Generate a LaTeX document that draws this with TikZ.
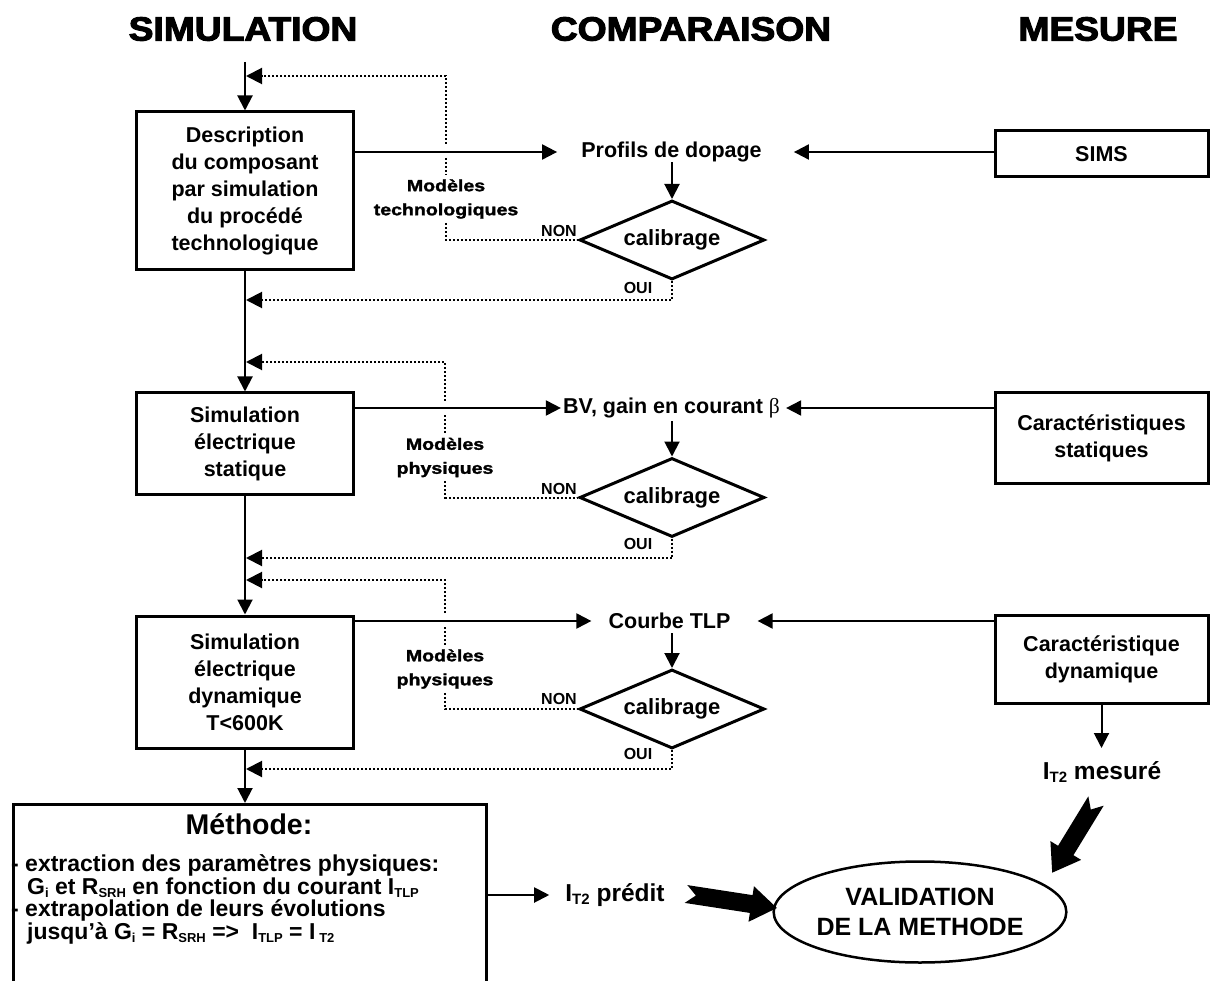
\documentclass[tikz,border=0pt]{standalone}
\usepackage{graphicx}
\usepackage{fontspec}
\setmainfont{Liberation Sans}
\newfontfamily\heavy{Liberation Sans}[BoldFeatures={FakeBold=1.5}]
\newfontfamily\heavyh{Liberation Sans}[BoldFeatures={FakeBold=3}]
\newfontfamily\serifgr{Liberation Serif}
\usetikzlibrary{arrows.meta,shapes.geometric,calc}
\newcommand\wide[1]{\scalebox{1.2}[1]{#1}}
\newcommand\hwide[1]{\scalebox{1.11}[1]{#1}}
\newcommand\subsc[2][13]{\raisebox{-3pt}{\fontsize{#1}{#1}\selectfont #2}}
\newcommand\fatarrow[3]{%
  \pgfmathanglebetweenpoints{\pgfpointanchor{#1}{center}}{\pgfpointanchor{#2}{center}}%
  \let\fatang\pgfmathresult
  \fill[shift={(#1)}, rotate=\fatang] (0,-9) -- ({#3-26},-9) -- ({#3-26},-18) -- (#3,0)
     -- ({#3-26},18) -- ({#3-26},9) -- (0,9) -- (10,0) -- cycle;}
\begin{document}
\begin{tikzpicture}[x=1pt,y=-1pt,
  every node/.style={font=\bfseries\fontsize{21.5}{27}\selectfont, inner sep=0pt},
  hd/.style={font=\heavyh\bfseries\fontsize{33.5}{40}\selectfont},
  box/.style={draw, line width=3pt, align=center, minimum width=217pt},
  rbox/.style={draw, line width=3pt, align=center, minimum width=213pt},
  dia/.style={draw, diamond, aspect=2.4, line width=3pt, minimum width=185pt, minimum height=79pt,
              font=\bfseries\fontsize{22}{26}\selectfont},
  modl/.style={align=center, inner sep=4pt, font=\heavy\bfseries\fontsize{16.3}{24}\selectfont},
  yn/.style={font=\bfseries\fontsize{16}{18}\selectfont},
  conn/.style={line width=2pt, -{Triangle[length=15pt,width=15pt]}},
  dotl/.style={line width=2pt, dash pattern=on 2pt off 2pt},
  doto/.style={dotl, -{Triangle[length=16pt,width=16pt]}},
  big/.style={font=\bfseries\fontsize{24.5}{30}\selectfont}]
\useasboundingbox (0,0) rectangle (1210,981);

% headings
\node[hd] (h1) at (243,29) {\hwide{SIMULATION}};
\node[hd] (h2) at (691,29) {\hwide{COMPARAISON}};
\node[hd] (h3) at (1098,29) {\hwide{MESURE}};

% simulation boxes
\node[box, minimum height=158pt] (b1) at (245,191) {Description\\du composant\\par simulation\\du procédé\\technologique};
\node[box, minimum height=101pt] (b2) at (245,443.5) {Simulation\\électrique\\statique};
\node[box, minimum height=132pt] (b3) at (245,682) {Simulation\\électrique\\dynamique\\T<600K};
\node[draw, line width=3pt, anchor=north west, minimum width=473pt, minimum height=200pt] (m) at (12,803) {};

% measurement boxes
\node[rbox, minimum height=46pt] (r1) at (1101.5,154) {SIMS};
\node[rbox, minimum height=90pt] (r2) at (1101.5,438) {Caractéristiques\\statiques};
\node[rbox, minimum height=88pt] (r3) at (1101.5,659) {Caractéristique\\dynamique};

% comparison texts
\node (c1) at (671.5,152) {Profils de dopage};
\node (c2) at (671.5,408) {BV, gain en courant {\serifgr\mdseries β}};
\node (c3) at (669.5,621) {Courbe TLP};

% diamonds
\node[dia] (d1) at (672,240) {calibrage};
\node[dia] (d2) at (672,497.5) {calibrage};
\node[dia] (d3) at (672,709) {calibrage};

% model labels
\node[modl] (m1) at (446,199) {\wide{Modèles}\\\wide{technologiques}};
\node[modl] (m2) at (445,457.5) {\wide{Modèles}\\\wide{physiques}};
\node[modl] (m3) at (445,669) {\wide{Modèles}\\\wide{physiques}};

% NON / OUI
\node[yn] (n1) at (559,231) {NON};
\node[yn] (n2) at (559,489) {NON};
\node[yn] (n3) at (559,699) {NON};
\node[yn] (o1l) at (638,288) {OUI};
\node[yn] (o2l) at (638,544) {OUI};
\node[yn] (o3l) at (638,754) {OUI};

% main vertical flow
\coordinate (top) at (245,62);
\draw[conn] (top) -- (b1.north);
\draw[conn] (b1.south) -- (b2.north);
\draw[conn] (b2.south) -- (b3.north);
\draw[conn] (b3.south) -- (b3.south |- m.north);

% horizontal arrows to comparison
\draw[conn] (b1.east |- c1) -- ([xshift=-24pt]c1.west);
\draw[conn] (b2.east |- c2) -- ([xshift=-2pt]c2.west);
\draw[conn] (b3.east |- c3) -- ([xshift=-17pt]c3.west);
\draw[conn] (r1.west |- c1) -- ([xshift=32pt]c1.east);
\draw[conn] (r2.west |- c2) -- ([xshift=6pt]c2.east);
\draw[conn] (r3.west |- c3) -- ([xshift=27pt]c3.east);

% comparison to calibrage
\draw[conn] (d1.north |- c1.south) -- (d1.north);
\draw[conn] ([yshift=-3pt]d2.north |- c2.south) -- (d2.north);
\draw[conn] ([yshift=-4pt]d3.north |- c3.south) -- (d3.north);

% dotted feedback loops
\coordinate (e1) at (246,76);   \coordinate (o1) at (246,300);
\coordinate (e2) at (246,362);  \coordinate (o2) at (246,558);
\coordinate (e3) at (246,580);  \coordinate (o3) at (246,769);
\coordinate (ga1) at (446,144); \coordinate (gb1) at (446,158);
\coordinate (ga2) at (445,401); \coordinate (gb2) at (445,415);
\coordinate (ga3) at (445,613); \coordinate (gb3) at (445,627);

\draw[doto] (ga1) |- (e1);
\draw[dotl] (gb1) -- (m1.north);
\draw[dotl] (m1.south) |- (d1.west);
\draw[doto] (d1.south) |- (o1);

\draw[doto] (ga2) |- (e2);
\draw[dotl] (gb2) -- (m2.north);
\draw[dotl] (m2.south) |- (d2.west);
\draw[doto] (d2.south) |- (o2);

\draw[doto] (ga3) |- (e3);
\draw[dotl] (gb3) -- (m3.north);
\draw[dotl] (m3.south) |- (d3.west);
\draw[doto] (d3.south) |- (o3);

% methode box content
\node[font=\bfseries\fontsize{28.5}{32}\selectfont] (mt) at (249,824) {Méthode:};
\node[anchor=north west, align=left, font=\bfseries\fontsize{23}{22.7}\selectfont] (mlist) at (11,854.5)
  {- extraction des paramètres physiques:\\
   \hspace*{16pt}G\subsc{i} et R\subsc{SRH} en fonction du courant I\subsc{TLP}\\
   - extrapolation de leurs évolutions\\
   \hspace*{16pt}jusqu’à G\subsc{i} = R\subsc{SRH} =>\ \ I\subsc{TLP} = I\,\subsc{T2}};

% results
\node[big] (pred) at (615,895) {I\subsc[15]{T2} prédit};
\node[big] (mes) at (1102,772) {I\subsc[15]{T2} mesuré};
\node[draw, ellipse, line width=2.5pt, minimum width=272pt, minimum height=101pt, align=center,
      font=\bfseries\fontsize{25}{30}\selectfont] (val) at (920,912) {VALIDATION\\DE LA METHODE};

\draw[conn] (m.east |- pred) -- ([xshift=-16pt]pred.west);
\draw[conn, shorten >=2pt] (r3.south) -- (r3.south |- 0,750);

\coordinate (fa1s) at (686,894); \coordinate (fa1e) at (777,908);
\coordinate (fa2s) at (1096,801); \coordinate (fa2e) at (1052,873);
\fatarrow{fa1s}{fa1e}{92}
\fatarrow{fa2s}{fa2e}{84}
\end{tikzpicture}
\end{document}
